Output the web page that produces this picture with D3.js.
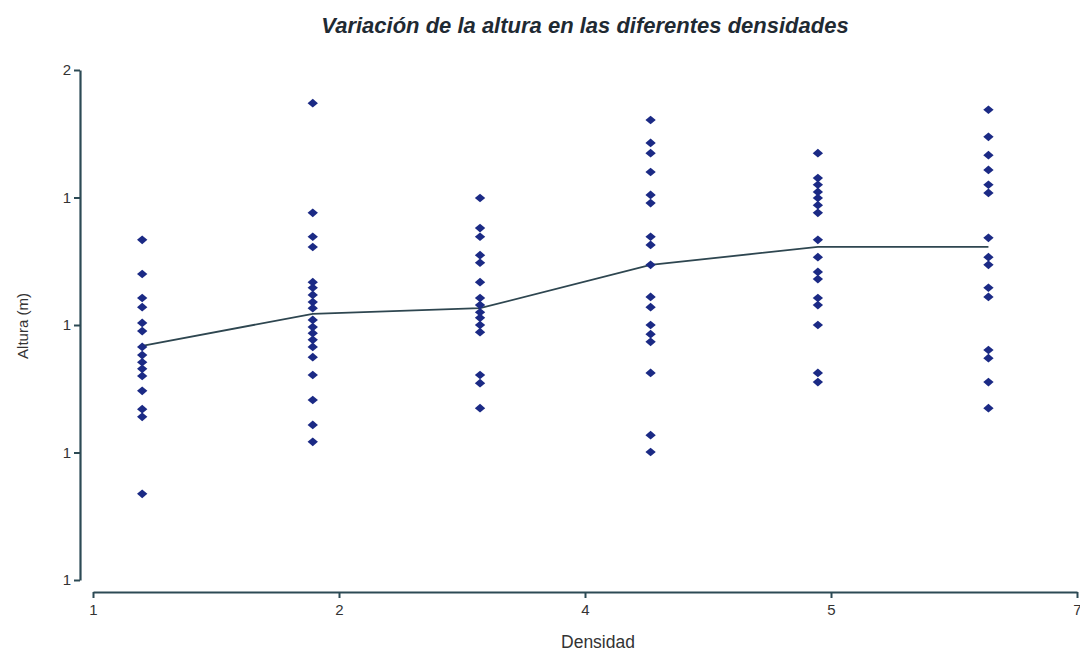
<!DOCTYPE html>
<html>
<head>
<meta charset="utf-8">
<script src="https://cdn.jsdelivr.net/npm/d3@7"></script>
<style>
  html, body { margin: 0; padding: 0; background: #fff; }
  svg { display: block; font-family: "Liberation Sans", Arial, sans-serif; }
</style>
</head>
<body>
<svg id="chart" width="1080" height="656"></svg>
<script>
// ---- Data ----
const densidades = [1.3, 2.34, 3.36, 4.4, 5.42, 6.46];
const alturaD1 = [1.667, 1.600, 1.553, 1.535, 1.504, 1.488, 1.457, 1.441, 1.427, 1.414, 1.400, 1.371, 1.335, 1.320, 1.169];
const alturaD2 = [1.935, 1.720, 1.673, 1.653, 1.584, 1.573, 1.559, 1.545, 1.533, 1.510, 1.496, 1.484, 1.471, 1.457, 1.437, 1.402, 1.353, 1.304, 1.271];
const alturaD3 = [1.749, 1.690, 1.673, 1.637, 1.622, 1.584, 1.553, 1.539, 1.525, 1.514, 1.500, 1.486, 1.402, 1.386, 1.337];
const alturaD4 = [1.902, 1.857, 1.837, 1.800, 1.755, 1.739, 1.673, 1.657, 1.618, 1.555, 1.535, 1.500, 1.482, 1.467, 1.406, 1.284, 1.251];
const alturaD5 = [1.837, 1.788, 1.775, 1.761, 1.749, 1.735, 1.720, 1.667, 1.633, 1.604, 1.590, 1.553, 1.539, 1.500, 1.406, 1.388];
const alturaD6 = [1.922, 1.869, 1.833, 1.804, 1.775, 1.759, 1.671, 1.633, 1.618, 1.573, 1.555, 1.451, 1.435, 1.388, 1.337];
const alturaMedia = [1.459, 1.522, 1.533, 1.618, 1.653, 1.653];
const xTickValues = [1, 2.5, 4, 5.5, 7];
const xTickLabels = ["1", "2", "4", "5", "7"];
const yTickValues = [1, 1.25, 1.5, 1.75, 2];
const yTickLabels = ["1", "1", "1", "1", "2"];
const titulo = "Variación de la altura en las diferentes densidades";
const xTitulo = "Densidad";
const yTitulo = "Altura (m)";

// ---- Chart ----
const svg = d3.select("#chart");
const axisColor = "#2c4a55";
const textColor = "#333";
const pointColor = "#1b2a85";

const x = d3.scaleLinear().domain([1, 7]).range([93, 1077]);
const y = d3.scaleLinear().domain([1, 2]).range([580, 70]);

const series = [alturaD1, alturaD2, alturaD3, alturaD4, alturaD5, alturaD6];
const points = [];
series.forEach((vals, i) => vals.forEach(v => points.push({ d: densidades[i], v })));

// Mean line
svg.append("path")
  .datum(densidades.map((d, i) => [d, alturaMedia[i]]))
  .attr("fill", "none")
  .attr("stroke", "#2e4650")
  .attr("stroke-width", 1.8)
  .attr("d", d3.line().x(p => x(p[0])).y(p => y(p[1])));

// Points
const sym = d3.symbol().type(d3.symbolDiamond2).size(62);
svg.append("g").selectAll("path")
  .data(points)
  .join("path")
  .attr("d", sym)
  .attr("transform", p => `translate(${x(p.d)},${y(p.v)}) scale(1.05,0.88)`)
  .attr("fill", pointColor);

// Y axis
const yAxis = svg.append("g")
  .attr("transform", "translate(80,0)")
  .call(d3.axisLeft(y).tickValues(yTickValues).tickFormat((d, i) => yTickLabels[i]).tickSize(6).tickSizeOuter(0));
// X axis
const xAxis = svg.append("g")
  .attr("transform", "translate(0,592)")
  .call(d3.axisBottom(x).tickValues(xTickValues).tickFormat((d, i) => xTickLabels[i]).tickSize(6).tickSizeOuter(0));

[yAxis, xAxis].forEach(g => {
  g.select(".domain").attr("stroke", axisColor).attr("stroke-width", 2.2);
  g.selectAll(".tick line").attr("stroke", axisColor).attr("stroke-width", 2);
  g.selectAll(".tick text").attr("fill", textColor).style("font-size", "15px")
    .style("font-family", "'Liberation Sans', Arial, sans-serif");
});
yAxis.selectAll(".tick text").attr("x", -9);
xAxis.selectAll(".tick text").attr("y", 12);

// Titles
svg.append("text")
  .attr("x", 585).attr("y", 33)
  .attr("text-anchor", "middle")
  .style("font-size", "22px").style("font-weight", "bold").style("font-style", "italic")
  .attr("fill", "#1f2a33")
  .text(titulo);

svg.append("text")
  .attr("x", 598).attr("y", 648)
  .attr("text-anchor", "middle")
  .style("font-size", "17.5px")
  .attr("fill", textColor)
  .text(xTitulo);

svg.append("text")
  .attr("transform", "translate(28,326) rotate(-90)")
  .attr("text-anchor", "middle")
  .style("font-size", "15px")
  .attr("fill", textColor)
  .text(yTitulo);
</script>
</body>
</html>
